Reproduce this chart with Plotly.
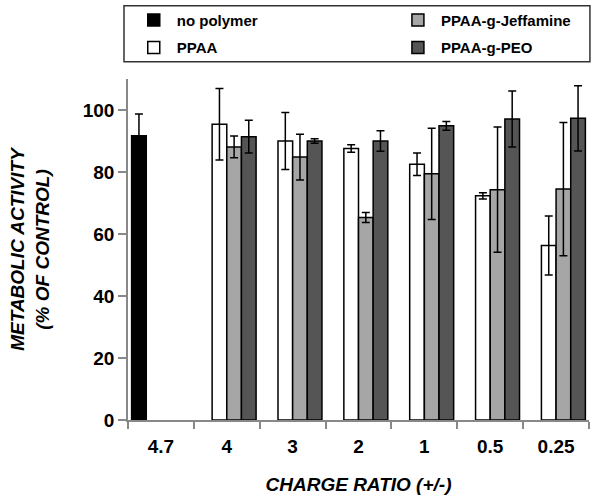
import plotly.graph_objects as go

categories = ["4.7", "4", "3", "2", "1", "0.5", "0.25"]

no_polymer = [91.7, None, None, None, None, None, None]
no_polymer_err = [7.0, None, None, None, None, None, None]

ppaa = [None, 95.4, 90.0, 87.6, 82.5, 72.3, 56.3]
ppaa_err = [None, 11.5, 9.2, 1.2, 3.6, 1.0, 9.5]

jeffamine = [None, 88.1, 84.8, 65.3, 79.4, 74.3, 74.5]
jeffamine_err = [None, 3.5, 7.4, 1.6, 14.7, 20.2, 21.5]

peo = [None, 91.4, 90.0, 90.0, 94.9, 97.1, 97.3]
peo_err = [None, 5.3, 0.7, 3.3, 1.4, 9.0, 10.5]

FONT = "Liberation Sans, Arial, sans-serif"

series = [
    ("no polymer", no_polymer, no_polymer_err, "#000000", "legend", 1),
    ("PPAA", ppaa, ppaa_err, "#ffffff", "legend", 2),
    ("PPAA-g-Jeffamine", jeffamine, jeffamine_err, "#a6a6a6", "legend2", 1),
    ("PPAA-g-PEO", peo, peo_err, "#555555", "legend2", 2),
]

fig = go.Figure()
for name, vals, errs, color, leg, rank in series:
    fig.add_trace(go.Bar(
        name=name, x=categories, y=vals,
        marker=dict(color=color, line=dict(color="#000000", width=1.5)),
        error_y=dict(type="data", array=errs, visible=True, color="#000000", thickness=1.5, width=4),
        legend=leg, legendgroup=name, legendrank=rank,
    ))

legend_common = dict(
    orientation="v", bgcolor="rgba(0,0,0,0)", borderwidth=0,
    font=dict(family=FONT, size=15, color="#000000", weight="bold"),
    tracegroupgap=5, itemwidth=36, xanchor="left", yanchor="top",
)

fig.update_layout(
    width=600, height=503,
    margin=dict(l=128, r=11, t=79, b=83, autoexpand=False),
    paper_bgcolor="#ffffff", plot_bgcolor="#ffffff",
    barmode="group", bargap=0.11, bargroupgap=0,
    font=dict(family=FONT, color="#000000"),
    legend=dict(x=0.006, y=1.221, **legend_common),
    legend2=dict(x=0.579, y=1.221, **legend_common),
    shapes=[dict(type="rect", xref="paper", yref="paper",
                 x0=-0.0087, x1=1.002, y0=1.0507, y1=1.215,
                 line=dict(color="#333333", width=1.5), fillcolor="rgba(0,0,0,0)")],
    xaxis=dict(
        type="category", showgrid=False, zeroline=False, automargin=False,
        showline=True, linecolor="#888888", linewidth=1.5,
        ticks="outside", tickson="boundaries", ticklen=7, tickcolor="#888888", tickwidth=1.5,
        tickfont=dict(family=FONT, size=19, color="#000000", weight="bold"),
        ticklabelstandoff=8,
        title=dict(text="CHARGE RATIO (+/-)", standoff=22,
                   font=dict(family=FONT, size=19, color="#000000", weight="bold", style="italic")),
    ),
    yaxis=dict(
        range=[0, 110], tickvals=[0, 20, 40, 60, 80, 100], showgrid=False, zeroline=False, automargin=False,
        showline=True, linecolor="#888888", linewidth=1.5,
        ticks="outside", ticklen=8, tickcolor="#888888", tickwidth=1.5,
        tickfont=dict(family=FONT, size=19, color="#000000", weight="bold"),
        title=dict(text="METABOLIC ACTIVITY<br>(% OF CONTROL)", standoff=28,
                   font=dict(family=FONT, size=19, color="#000000", weight="bold", style="italic")),
    ),
)

fig.write_html("out.html", config={"displayModeBar": False},
               post_script="document.body.style.margin='0';")
